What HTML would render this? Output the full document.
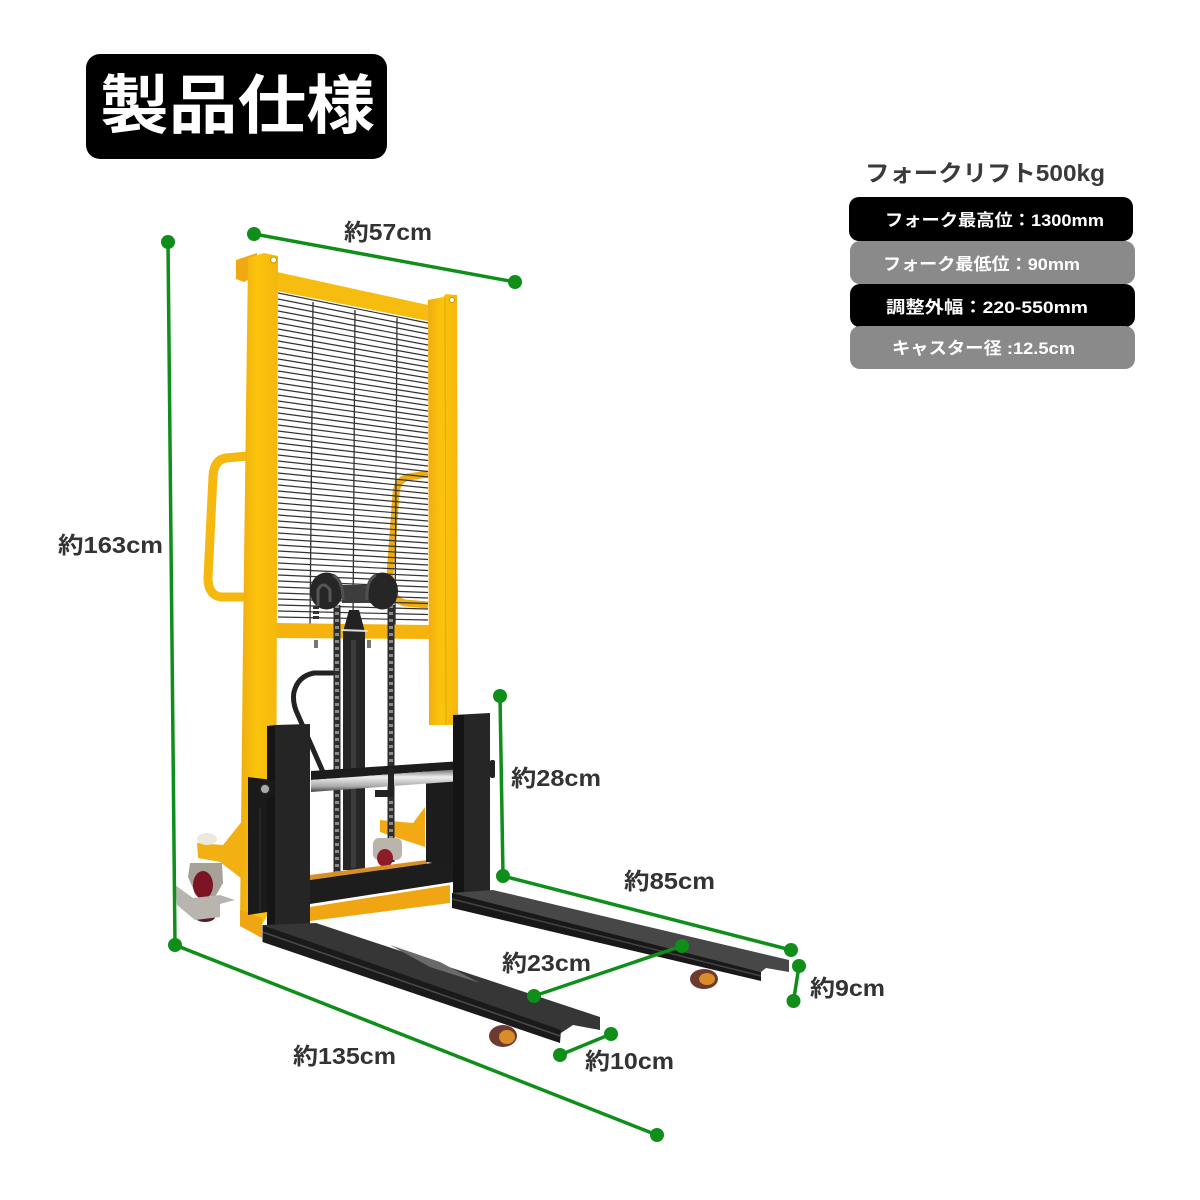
<!DOCTYPE html>
<html lang="ja"><head><meta charset="utf-8"><title>製品仕様</title>
<style>
html,body{margin:0;padding:0;background:#fff}
svg{display:block}
text{font-family:"Liberation Sans","Noto Sans CJK JP",sans-serif;font-weight:700}
.d{font-size:23px;fill:#333}
.r{font-size:17px;fill:#fff}
</style></head><body>
<svg width="1200" height="1200" viewBox="0 0 1200 1200" xmlns="http://www.w3.org/2000/svg">
<defs>
<linearGradient id="rod" x1="0" y1="0" x2="0" y2="1"><stop offset="0" stop-color="#666"/><stop offset=".35" stop-color="#eee"/><stop offset=".75" stop-color="#aaa"/><stop offset="1" stop-color="#444"/></linearGradient>
<linearGradient id="col" x1="0" y1="0" x2="1" y2="0"><stop offset="0" stop-color="#f0ad10"/><stop offset=".45" stop-color="#fbc40c"/><stop offset="1" stop-color="#f5b60c"/></linearGradient>
</defs>
<rect width="1200" height="1200" fill="#fff"/>

<!-- title -->
<rect x="86" y="54" width="301" height="105" rx="14" fill="#000"/>
<text x="100" y="128" font-size="64" fill="#fff" textLength="275" lengthAdjust="spacingAndGlyphs">製品仕様</text>

<!-- spec panel -->
<text x="865" y="181" font-size="23" fill="#3a3a3a" textLength="240" lengthAdjust="spacingAndGlyphs">フォークリフト500kg</text>
<rect x="849" y="197" width="284" height="44" rx="10" fill="#000"/>
<rect x="850" y="241" width="285" height="43" rx="10" fill="#8a8a8a"/>
<rect x="850" y="284" width="285" height="43" rx="10" fill="#000"/>
<rect x="850" y="326" width="285" height="43" rx="10" fill="#8a8a8a"/>
<text class="r" x="885" y="226" textLength="219" lengthAdjust="spacingAndGlyphs">フォーク最高位：1300mm</text>
<text class="r" x="883" y="270" textLength="197" lengthAdjust="spacingAndGlyphs">フォーク最低位：90mm</text>
<text class="r" x="886" y="313" textLength="202" lengthAdjust="spacingAndGlyphs">調整外幅：220-550mm</text>
<text class="r" x="892" y="354" textLength="183" lengthAdjust="spacingAndGlyphs">キャスター径 :12.5cm</text>

<!-- rear legs -->
<polygon points="197,843 223,845 243,820 250,820 250,885 220,862 198,858" fill="#f3b012"/>
<ellipse cx="207" cy="839" rx="10" ry="6" fill="#ece8de"/>
<polygon points="425,807 413,823 380,820 380,832 425,847" fill="#f3a913"/>

<!-- back handle (behind mesh) -->
<path d="M428,474 L408,477 Q397,480 396,494 L390,575 Q390,600 405,603 L428,605" fill="none" stroke="#edab14" stroke-width="7"/>

<!-- mesh -->
<path fill="none" stroke="#333" stroke-width="1.2" d="M278,293l150,30M278,299l150,29.5M278,305l150,29M278,311l150,28.5M278,317l150,28M278,323l150,27.5M278,329l150,27M278,335l150,26.5M278,341l150,26M278,347l150,25.5M278,353l150,25M278,359l150,24.5M278,365l150,24M278,371l150,23.5M278,377l150,23M278,383l150,22.5M278,389l150,22M278,395l150,21.5M278,401l150,21M278,407l150,20.5M278,413l150,20M278,419l150,19.5M278,425l150,19M278,431l150,18.5M278,437l150,18M278,443l150,17.5M278,449l150,17M278,455l150,16.5M278,461l150,16M278,467l150,15.5M278,473l150,15M278,479l150,14.5M278,485l150,14M278,491l150,13.5M278,497l150,13M278,503l150,12.5M278,509l150,12M278,515l150,11.5M278,521l150,11M278,527l150,10.5M278,533l150,10M278,539l150,9.5M278,545l150,9M278,551l150,8.5M278,557l150,8M278,563l150,7.5M278,569l150,7M278,575l150,6.5M278,581l150,6M278,587l150,5.5M278,593l150,5M278,599l150,4.5M278,605l150,4M278,611l150,3.5M278,617l150,3"/>
<path fill="none" stroke="#333" stroke-width="1.3" d="M313,302L310,625M355,310L353,625M397,318L395,625"/>

<!-- left handle -->
<path d="M248,456 L226,458 Q214,460 213,476 L208,578 Q208,596 222,597 L246,597" fill="none" stroke="#f5b80f" stroke-width="9"/>

<!-- mast -->
<polygon points="236,260 257,253 257,275 244,282 236,279" fill="#eeaa10"/>
<polygon points="277,272 428,305 428,321 277,291" fill="#f6bd10"/>
<polygon points="276,623 429,625 429,639 276,638" fill="#f5b30e"/>
<polygon points="248,258 264,253 278,256 276,900 262,925 262,938 240,926 243,640" fill="url(#col)"/>
<circle cx="273.500" cy="260" r="3" fill="#fff" stroke="#c8960a"/>
<polygon points="428,300 443,297 446,294 457,295 458,725 429,725" fill="url(#col)"/>
<line x1="445" y1="298" x2="446" y2="725" stroke="#e3a80a"/>
<circle cx="452" cy="300" r="2.500" fill="#fff" stroke="#c8960a"/>

<!-- cylinder -->
<polygon points="349,610 359,610 365,632 343,632" fill="#222"/>
<rect x="343" y="632" width="22" height="238" fill="#262626"/>
<rect x="351" y="640" width="5" height="228" fill="#3c3c3c"/>
<line x1="341" y1="630" x2="368" y2="631" stroke="#ddd" stroke-width="2"/>
<path d="M316,640v8M369,640v8" stroke="#777" stroke-width="4"/>

<!-- hose -->
<path d="M338,673 L314,673 Q298,676 294,692 Q292,703 298,715 L323,772" fill="none" stroke="#222" stroke-width="5"/>

<!-- chains -->
<path d="M337,605V878M391,605V862" fill="none" stroke="#2d2d2d" stroke-width="7"/>
<path d="M337,605V878M391,605V862" fill="none" stroke="#8a8a8a" stroke-width="4" stroke-dasharray="3 4"/>
<path d="M316,606V621" fill="none" stroke="#333" stroke-width="6" stroke-dasharray="3 2"/>

<!-- pulleys -->
<rect x="342" y="585" width="41" height="18" fill="#3d3d3d"/>
<ellipse cx="326.500" cy="591" rx="16.500" ry="18.500" fill="#262626"/>
<ellipse cx="382.500" cy="591" rx="15.500" ry="18.500" fill="#262626"/>
<path d="M318,606V590Q323,580 330,590V602" fill="none" stroke="#555" stroke-width="3"/>
<path d="M333,575Q343,580 343,600M376,575Q366,580 367,600" fill="none" stroke="#505050" stroke-width="3"/>

<!-- right caster -->
<rect x="373" y="838" width="29" height="22" rx="6" fill="#b9b5ad"/>
<ellipse cx="385" cy="858" rx="8" ry="9" fill="#8e1b28"/>

<!-- left caster -->
<polygon points="190,863 222,863 223,883 215,897 195,893 188,877" fill="#a6a29a"/>
<ellipse cx="205" cy="917" rx="10" ry="5" fill="#5a1a20"/>
<ellipse cx="203" cy="885" rx="10" ry="14" fill="#7d1424"/>
<polygon points="175,885 193,898 220,895 235,900 220,904 220,917 195,920 177,905" fill="#b8b5ae"/>

<!-- orange base -->
<polygon points="310,907 450,885 450,903 310,921" fill="#f0a513"/>
<polygon points="310,875 427,860 427,864 310,880" fill="#d88f2a"/>
<polygon points="240,910 262,918 262,938 240,926" fill="#f0a513"/>

<!-- cross bars and carriage -->
<polygon points="310,880 453,860 453,882 310,904" fill="#1d1d1d"/>
<polygon points="426,770 453,768 453,866 426,862" fill="#1c1c1c"/>
<polygon points="311,771 462,761 462,769 311,780" fill="#1c1c1c"/>
<polygon points="311,780 462,769 462,781 311,792" fill="url(#rod)"/>
<rect x="388" y="768" width="6" height="24" fill="#222"/>
<rect x="375" y="790" width="19" height="7" fill="#222"/>
<polygon points="267,726 275,725 310,724 310,927 275,930 267,925" fill="#252525"/>
<rect x="267" y="726" width="8" height="200" fill="#151515"/>
<polygon points="248,777 273,780 275,793 267,800 267,912 248,915" fill="#1a1a1a"/>
<line x1="260" y1="808" x2="260" y2="912" stroke="#333"/>
<circle cx="265" cy="789" r="4.500" fill="#aaa" stroke="#333"/>
<polygon points="453,715 490,713 490,892 453,896" fill="#262626"/>
<rect x="453" y="715" width="11" height="180" fill="#141414"/>
<rect x="490" y="760" width="5" height="18" rx="2" fill="#222"/>

<!-- right fork -->
<ellipse cx="704" cy="979" rx="14" ry="10" fill="#6e3a30"/>
<ellipse cx="707" cy="979" rx="8" ry="6" fill="#d88c2a"/>
<polygon points="452,893 493,890 789,960 789,972 766,968 761,972 452,895" fill="#474747"/>
<polygon points="452,893 761,972 761,981 452,908" fill="#181818"/>
<line x1="452" y1="899" x2="761" y2="976" stroke="#444" stroke-width="1.500"/>

<!-- left fork -->
<ellipse cx="503" cy="1036" rx="14" ry="11" fill="#6e3a30"/>
<ellipse cx="507" cy="1037" rx="8" ry="7" fill="#d88c2a"/>
<polygon points="262.500,925 316,923 600,1017 600,1030 573,1025 561,1033" fill="#363636"/>
<polygon points="390,945 440,962 480,983 430,967" fill="#6a6a6a"/>
<polygon points="262.500,925 561,1030 560,1043 262.500,942" fill="#1a1a1a"/>
<line x1="262.500" y1="932" x2="560" y2="1036" stroke="#4a4a4a" stroke-width="1.500"/>

<!-- green dimension lines -->
<g stroke="#0f8f1a" stroke-width="3.500" fill="none">
<path d="M168,242L175,945L657,1135"/>
<path d="M254,234L515,282"/>
<path d="M500,696L503,876L791,950"/>
<path d="M534,996L682,946"/>
<path d="M799,966L793.500,1001"/>
<path d="M560,1055L611,1034"/>
</g>
<g fill="#0f8f1a">
<circle cx="168" cy="242" r="7"/><circle cx="175" cy="945" r="7"/><circle cx="657" cy="1135" r="7"/>
<circle cx="254" cy="234" r="7"/><circle cx="515" cy="282" r="7"/>
<circle cx="500" cy="696" r="7"/><circle cx="503" cy="876" r="7"/><circle cx="791" cy="950" r="7"/>
<circle cx="534" cy="996" r="7"/><circle cx="682" cy="946" r="7"/>
<circle cx="799" cy="966" r="7"/><circle cx="793.500" cy="1001" r="7"/>
<circle cx="560" cy="1055" r="7"/><circle cx="611" cy="1034" r="7"/>
</g>

<!-- labels -->
<text class="d" x="344" y="240" textLength="88" lengthAdjust="spacingAndGlyphs">約57cm</text>
<text class="d" x="58" y="553" textLength="105" lengthAdjust="spacingAndGlyphs">約163cm</text>
<text class="d" x="511" y="786" textLength="90" lengthAdjust="spacingAndGlyphs">約28cm</text>
<text class="d" x="624" y="889" textLength="91" lengthAdjust="spacingAndGlyphs">約85cm</text>
<text class="d" x="502" y="971" textLength="89" lengthAdjust="spacingAndGlyphs">約23cm</text>
<text class="d" x="810" y="996" textLength="75" lengthAdjust="spacingAndGlyphs">約9cm</text>
<text class="d" x="585" y="1069" textLength="89" lengthAdjust="spacingAndGlyphs">約10cm</text>
<text class="d" x="293" y="1064" textLength="103" lengthAdjust="spacingAndGlyphs">約135cm</text>
</svg>
</body></html>
